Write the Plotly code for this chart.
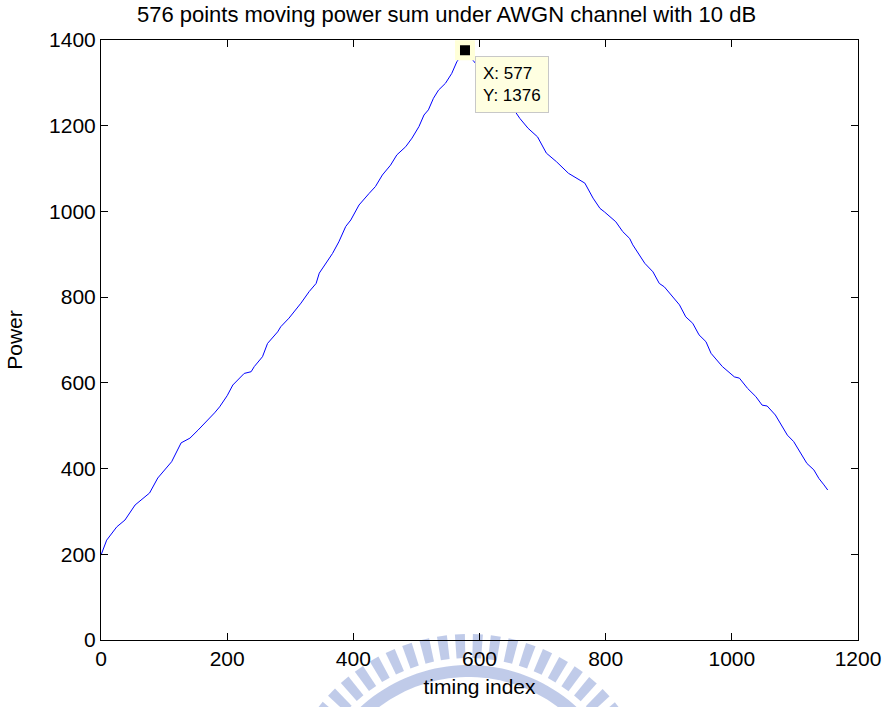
import numpy as np
import plotly.graph_objects as go

# timing index / power values
timing_index = [0, 1, 9, 25, 38, 54, 67, 77, 90, 101, 112, 127, 141, 154, 167, 180, 188, 200,
                209, 227, 238, 243, 256, 264, 280, 285, 298, 309, 317, 330, 341, 346, 359, 367,
                377, 388, 396, 409, 425, 435, 446, 459, 469, 483, 493, 504, 512, 519, 527, 535,
                546, 556, 564, 577,
                590, 610, 630, 650,
                664, 677, 692, 706, 722, 741, 756, 767, 780, 791, 798, 806, 816, 827, 838, 843,
                854, 862, 875, 885, 893, 906, 917, 927, 938, 948, 959, 967, 985, 1004, 1012,
                1025, 1038, 1048, 1056, 1069, 1080, 1088, 1098, 1106, 1119, 1130, 1138, 1146, 1152]
power = [198, 202, 233, 264, 280, 315, 331, 343, 378, 397, 416, 460, 471, 490, 509, 530, 544, 570,
         595, 622, 626, 638, 661, 692, 719, 731, 751, 770, 786, 813, 832, 856, 883, 902,
         929, 965, 980, 1015, 1042, 1058, 1085, 1108, 1132, 1151, 1171, 1198, 1225, 1237, 1264, 1283,
         1299, 1322, 1349, 1376,
         1352, 1318, 1283, 1247,
         1217, 1194, 1174, 1136, 1116, 1089, 1075, 1066, 1031, 1007, 999, 988, 976, 953, 937, 922,
         898, 879, 859, 832, 824, 801, 782, 754, 739, 712, 696, 669, 638, 614, 611,
         587, 568, 548, 546, 525, 498, 478, 463, 443, 412, 397, 377, 362, 350]

tip_x = [577]
tip_y = [1376]
x_ticks = [0, 200, 400, 600, 800, 1000, 1200]
y_ticks = [0, 200, 400, 600, 800, 1000, 1200, 1400]

FONT = "Arial, Liberation Sans, Helvetica, sans-serif"

fig = go.Figure()
fig.add_trace(go.Scatter(x=timing_index, y=power, mode="lines",
                         line=dict(color="#0000ff", width=1), showlegend=False,
                         hoverinfo="skip"))
fig.add_trace(go.Scatter(x=tip_x, y=tip_y, mode="markers",
                         marker=dict(symbol="square", size=15, color="black",
                                     line=dict(color="#ffffd8", width=5)),
                         showlegend=False, cliponaxis=False))

fig.add_annotation(x=tip_x[0], y=tip_y[0], xref="x", yref="y",
                   text="X: %d<br>Y: %d" % (tip_x[0], tip_y[0]),
                   showarrow=False, xanchor="left", yanchor="top", align="left",
                   xshift=10, yshift=-6, bgcolor="#ffffe1", bordercolor="#c8c8c8",
                   borderwidth=1, borderpad=7, font=dict(family=FONT, size=17, color="black"))

# watermark (decorative logo approximation) in paper coordinates
L, R_, T, B = 101, 861, 40, 640
def px2paper(px, py):
    return (px - L) / (R_ - L), (B - py) / (B - T)

shapes = []
cx, cy = 470, 826
wm = "rgba(150,168,218,0.6)"
for ang in np.arange(-62, 63, 5.4):
    a0 = np.radians(ang - 1.5)
    a1 = np.radians(ang + 1.5)
    r0, r1 = 168, 192
    pts = [(cx + r0 * np.sin(a0), cy - r0 * np.cos(a0)),
           (cx + r1 * np.sin(a0), cy - r1 * np.cos(a0)),
           (cx + r1 * np.sin(a1), cy - r1 * np.cos(a1)),
           (cx + r0 * np.sin(a1), cy - r0 * np.cos(a1))]
    pp = [px2paper(*p) for p in pts]
    path = "M " + " L ".join("%.4f,%.4f" % p for p in pp) + " Z"
    shapes.append(dict(type="path", path=path, xref="paper", yref="paper",
                       fillcolor=wm, line=dict(width=0), layer="below"))
# inner ring
angs = np.radians(np.linspace(-65, 65, 60))
outer = [px2paper(cx + 161 * np.sin(a), cy - 161 * np.cos(a)) for a in angs]
inner = [px2paper(cx + 149 * np.sin(a), cy - 149 * np.cos(a)) for a in angs[::-1]]
path = "M " + " L ".join("%.4f,%.4f" % p for p in outer + inner) + " Z"
shapes.append(dict(type="path", path=path, xref="paper", yref="paper",
                   fillcolor=wm, line=dict(width=0), layer="below"))

axis_common = dict(showgrid=False, zeroline=False, showline=True, linecolor="black",
                   linewidth=1, mirror="ticks", ticks="inside", ticklen=7,
                   tickcolor="black", tickwidth=1,
                   tickfont=dict(family=FONT, size=21, color="black"))

fig.update_layout(
    width=893, height=707,
    margin=dict(l=101, r=32, t=40, b=67),
    paper_bgcolor="white", plot_bgcolor="rgba(0,0,0,0)",
    title=dict(text="576 points moving power sum under AWGN channel with 10 dB",
               x=0.5, xanchor="center", y=0.99, yanchor="top",
               font=dict(family=FONT, size=22, color="black")),
    xaxis=dict(range=[0, 1200], tickvals=x_ticks,
               title=dict(text="timing index", standoff=10,
                          font=dict(family=FONT, size=21, color="black")),
               **axis_common),
    yaxis=dict(range=[0, 1400], tickvals=y_ticks,
               title=dict(text="Power", standoff=20,
                          font=dict(family=FONT, size=21, color="black")),
               **axis_common),
    shapes=shapes,
)

fig.write_html("out.html")
